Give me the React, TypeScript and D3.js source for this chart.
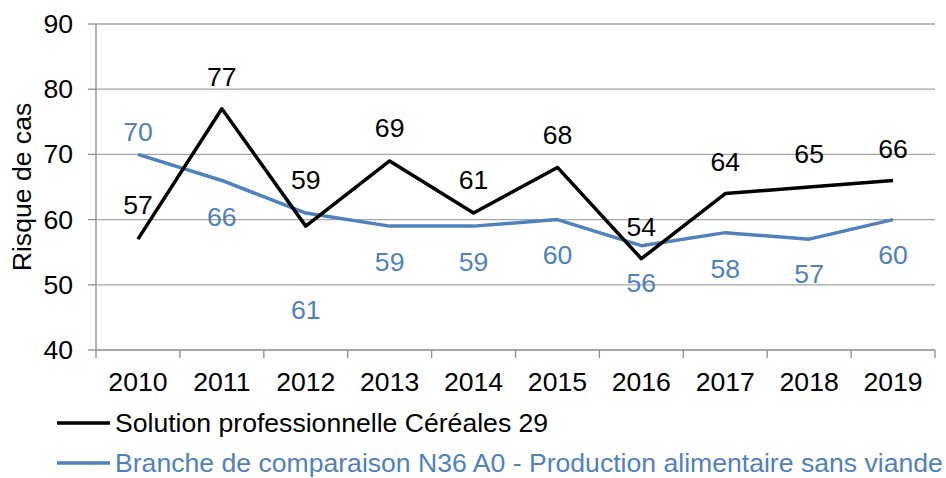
import React, { useRef, useEffect } from 'react';
import * as d3 from 'd3';

const years = ['2010', '2011', '2012', '2013', '2014', '2015', '2016', '2017', '2018', '2019'];
const cerealesValues = [57, 77, 59, 69, 61, 68, 54, 64, 65, 66];
const brancheValues = [70, 66, 61, 59, 59, 60, 56, 58, 57, 60];
const yTicks = [40, 50, 60, 70, 80, 90];
const seriesNames = [
  'Solution professionnelle Céréales 29',
  'Branche de comparaison N36 A0 - Production alimentaire sans viande',
];

// label offsets in px (negative = above the point), as placed in the original
const cerealesLabelDy = [-34, -32, -46, -33, -33, -32, -32, -32, -33, -31];
const brancheLabelDy = [-22, 37, 97, 36, 36, 35, 37, 36, 35, 35];

const App = () => {
  const ref = useRef<SVGSVGElement>(null);

  useEffect(() => {
    const svg = d3.select(ref.current);
    svg.selectAll('*').remove();

    const width = 946;
    const height = 478;
    const left = 96;
    const right = 935;
    const top = 24;
    const bottom = 350;
    const font = 'Liberation Sans, Arial, sans-serif';
    const fs = 26.6;
    const black = '#000000';
    const blue = '#4f81bd';
    const grid = '#a6a6a6';
    const axisColor = '#8c8c8c';

    svg.attr('viewBox', `0 0 ${width} ${height}`);

    const x = d3.scaleBand().domain(years).range([left, right]);
    const y = d3.scaleLinear().domain([40, 90]).range([bottom, top]);
    const cx = (yr: string) => (x(yr) as number) + x.bandwidth() / 2;

    // gridlines
    svg.append('g').selectAll('line').data(yTicks.filter(t => t > 40)).join('line')
      .attr('x1', left).attr('x2', right)
      .attr('y1', d => y(d)).attr('y2', d => y(d))
      .attr('stroke', grid).attr('stroke-width', 1.3);

    // y axis
    svg.append('line').attr('x1', left).attr('x2', left).attr('y1', top).attr('y2', bottom)
      .attr('stroke', axisColor).attr('stroke-width', 1.3);
    svg.append('g').selectAll('line').data(yTicks).join('line')
      .attr('x1', left - 8).attr('x2', left)
      .attr('y1', d => y(d)).attr('y2', d => y(d))
      .attr('stroke', axisColor).attr('stroke-width', 1.3);
    svg.append('g').selectAll('text').data(yTicks).join('text')
      .attr('x', 73).attr('y', d => y(d))
      .attr('text-anchor', 'end').attr('dominant-baseline', 'central')
      .style('font-family', font).style('font-size', `${fs}px`).attr('fill', black)
      .text(d => d);

    // x axis
    svg.append('line').attr('x1', left).attr('x2', right).attr('y1', bottom).attr('y2', bottom)
      .attr('stroke', axisColor).attr('stroke-width', 1.3);
    const bounds = years.map(yr => x(yr) as number).concat([right]);
    svg.append('g').selectAll('line').data(bounds).join('line')
      .attr('x1', d => d).attr('x2', d => d).attr('y1', bottom).attr('y2', bottom + 8)
      .attr('stroke', axisColor).attr('stroke-width', 1.3);
    svg.append('g').selectAll('text').data(years).join('text')
      .attr('x', d => cx(d)).attr('y', 382)
      .attr('text-anchor', 'middle').attr('dominant-baseline', 'central')
      .style('font-family', font).style('font-size', `${fs}px`).attr('fill', black)
      .text(d => d);

    // axis title
    svg.append('text')
      .attr('transform', `translate(22,${(top + bottom) / 2}) rotate(-90)`)
      .attr('text-anchor', 'middle').attr('dominant-baseline', 'central')
      .style('font-family', font).style('font-size', `${fs}px`).attr('fill', black)
      .text('Risque de cas');

    const line = d3.line<number>().x((d, i) => cx(years[i])).y(d => y(d));

    const series = [
      { values: brancheValues, color: blue, dy: brancheLabelDy },
      { values: cerealesValues, color: black, dy: cerealesLabelDy },
    ];

    series.forEach(s => {
      svg.append('path').datum(s.values).attr('d', line)
        .attr('fill', 'none').attr('stroke', s.color).attr('stroke-width', 3.5)
        .attr('stroke-linejoin', 'round');
    });
    series.forEach(s => {
      svg.append('g').selectAll('text').data(s.values).join('text')
        .attr('x', (d, i) => cx(years[i]))
        .attr('y', (d, i) => y(d) + s.dy[i])
        .attr('text-anchor', 'middle').attr('dominant-baseline', 'central')
        .style('font-family', font).style('font-size', `${fs}px`).attr('fill', s.color)
        .text(d => d);
    });

    // legend
    const legend = [
      { name: seriesNames[0], color: black, y: 423 },
      { name: seriesNames[1], color: blue, y: 463 },
    ];
    legend.forEach(l => {
      svg.append('line').attr('x1', 57).attr('x2', 110).attr('y1', l.y).attr('y2', l.y)
        .attr('stroke', l.color).attr('stroke-width', 3.5);
      svg.append('text').attr('x', 115).attr('y', l.y)
        .attr('dominant-baseline', 'central')
        .style('font-family', font).style('font-size', `${fs}px`).attr('fill', l.color)
        .text(l.name);
    });
  }, []);

  return (
    <svg ref={ref} width={946} height={478}
      style={{ position: 'absolute', left: 0, top: 0, display: 'block', background: '#fff' }} />
  );
};

export default App;
